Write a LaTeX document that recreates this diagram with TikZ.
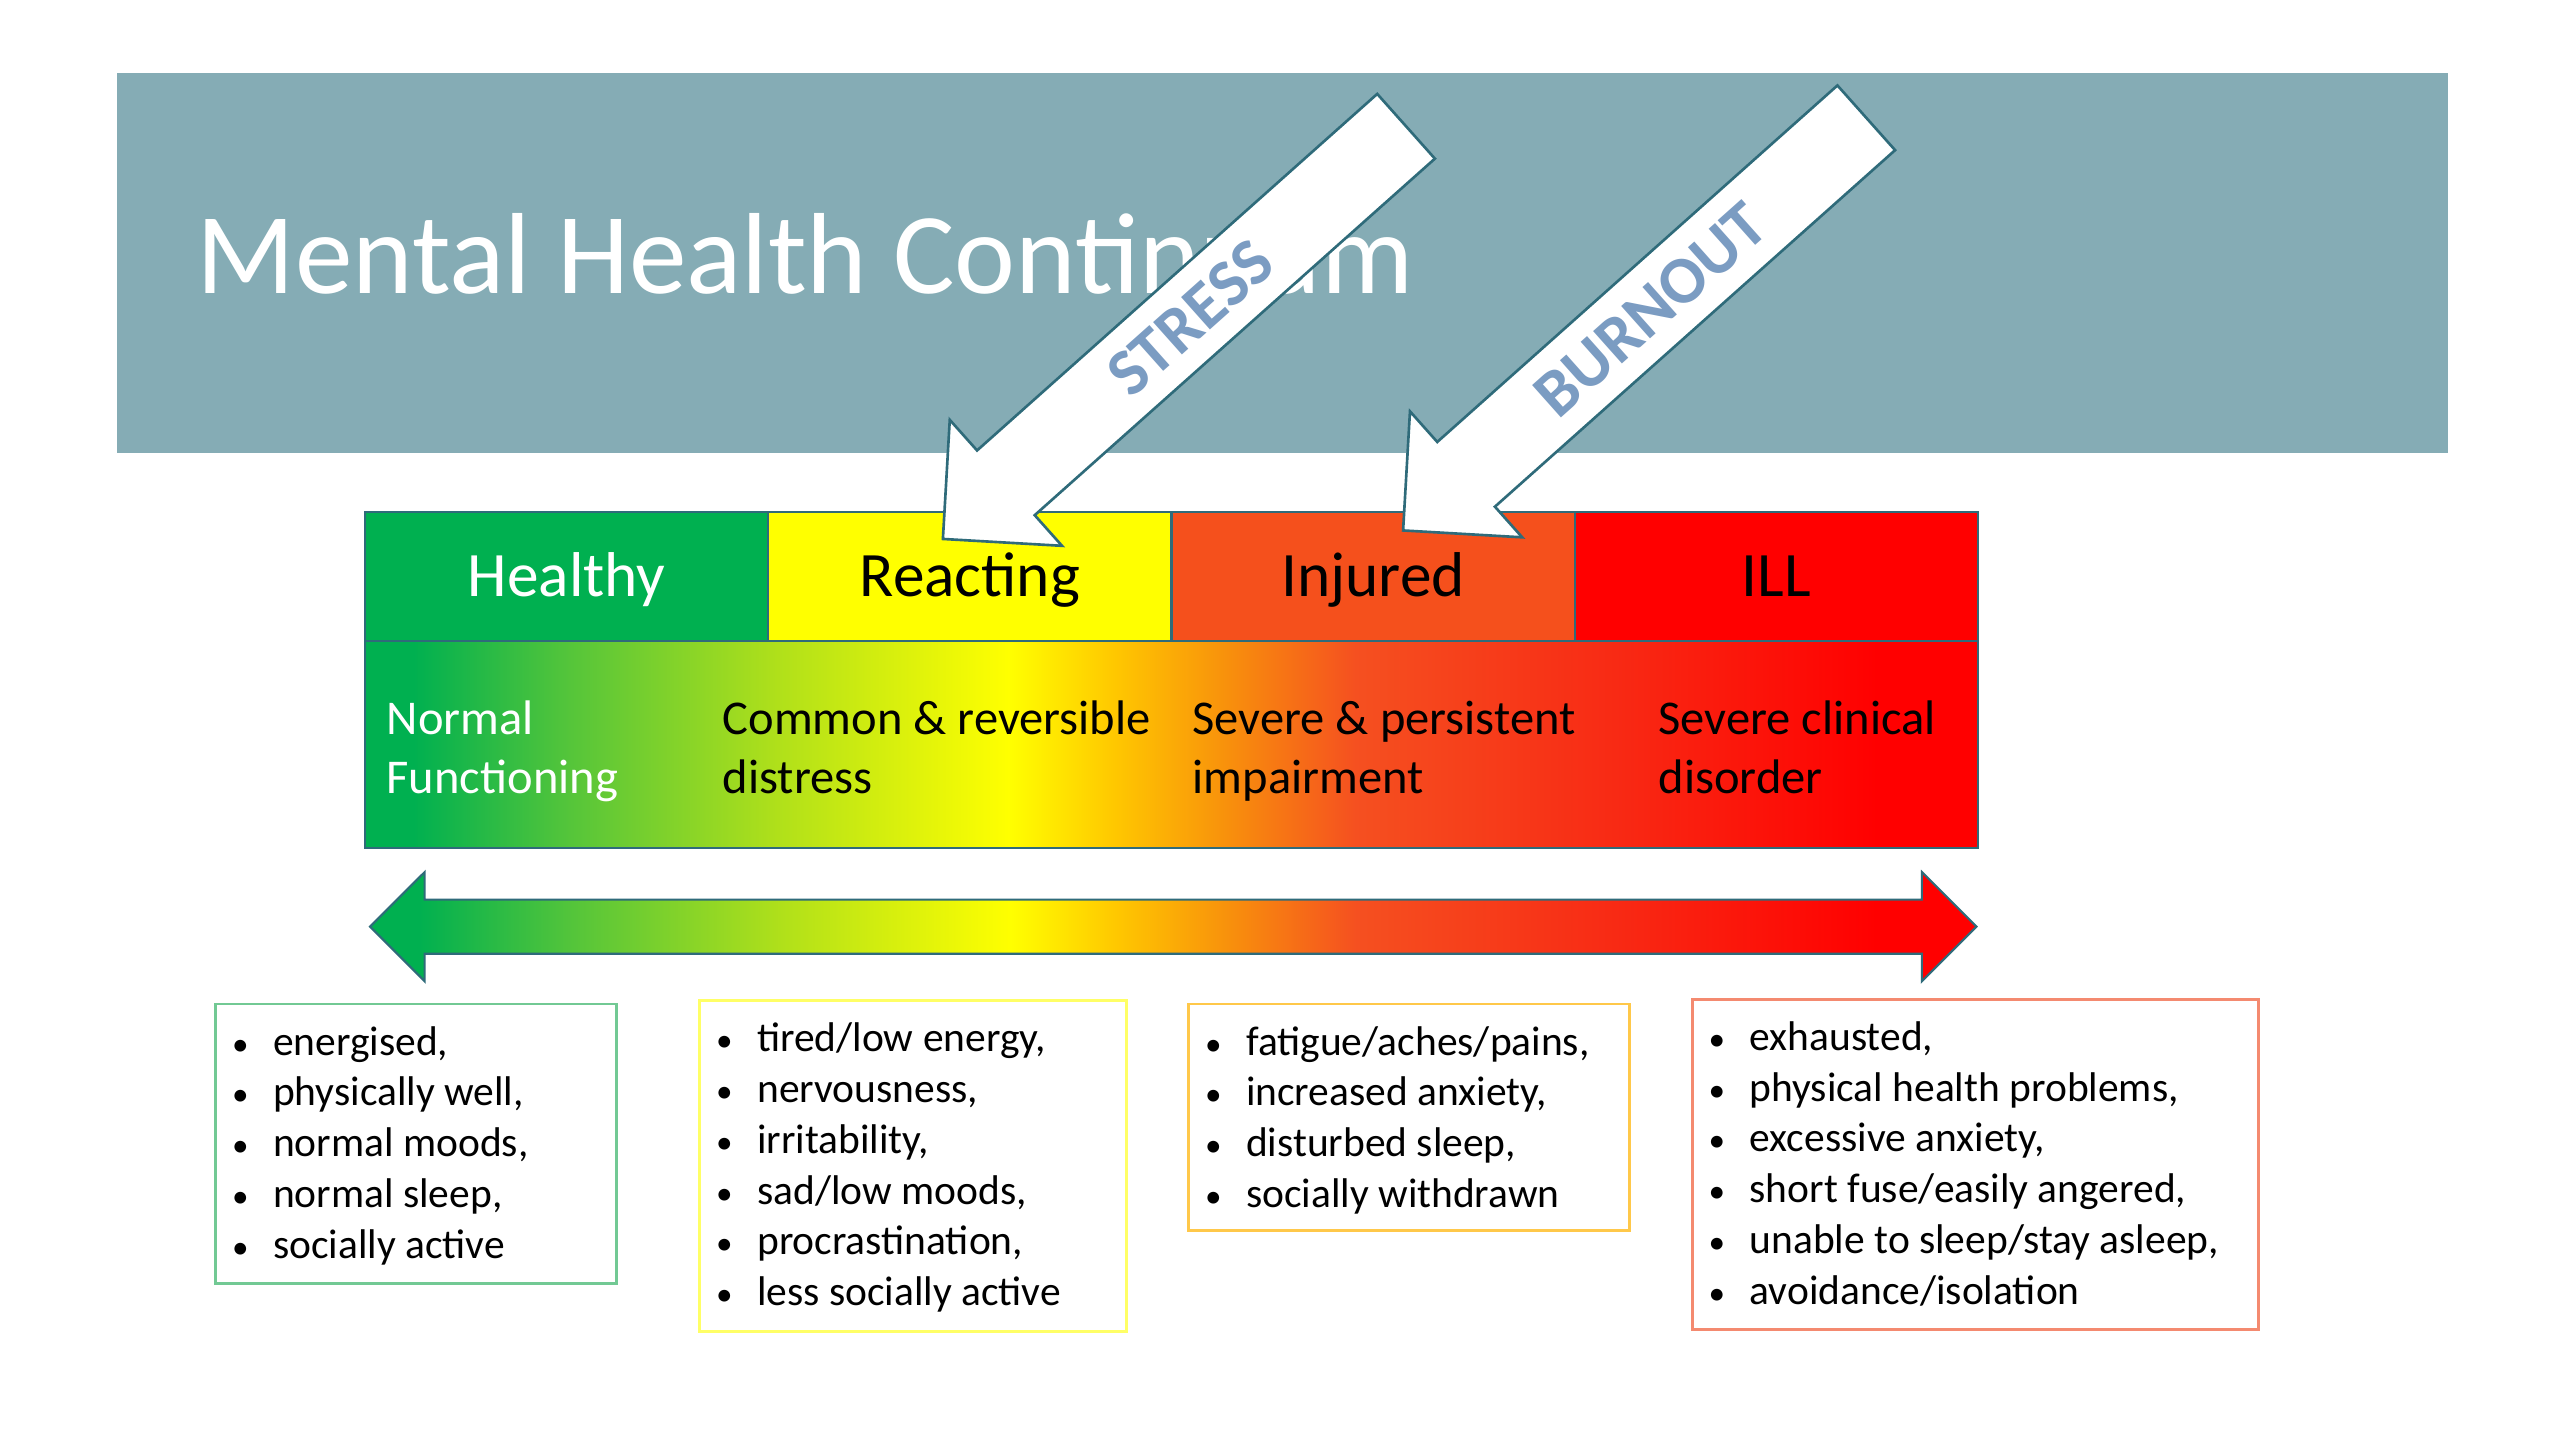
\documentclass[tikz,border=0pt]{standalone}
\usepackage{graphicx}
\usepackage{fontspec}
\setmainfont{Carlito}
\usetikzlibrary{positioning,shapes.arrows}
\definecolor{bandcol}{HTML}{85ACB5}
\definecolor{outl}{HTML}{2F6B7A}
\definecolor{arrowtxt}{HTML}{7B9CC2}
\definecolor{hcol}{HTML}{00B050}
\definecolor{rcol}{HTML}{FFFF00}
\definecolor{icol}{HTML}{F5501C}
\definecolor{lcol}{HTML}{FF0000}
\definecolor{bhcol}{HTML}{72C994}
\definecolor{brcol}{HTML}{FFFF66}
\definecolor{bicol}{HTML}{FFC84A}
\definecolor{blcol}{HTML}{F48A70}
\definecolor{gA}{HTML}{00B050}
\definecolor{gB}{HTML}{55C53A}
\definecolor{gC}{HTML}{B0E01A}
\definecolor{gD}{HTML}{FFFF00}
\definecolor{gE}{HTML}{FFC800}
\definecolor{gF}{HTML}{F8900C}
\definecolor{gG}{HTML}{F55020}
\definecolor{gH}{HTML}{F82A14}
\definecolor{gI}{HTML}{FF0000}
\pgfdeclarehorizontalshading{contgrad}{100bp}{color(0bp)=(gA); color(26.5bp)=(gA);
  color(31.35bp)=(gB); color(37.8bp)=(gC); color(44.95bp)=(gD); color(48.2bp)=(gE);
  color(51.75bp)=(gF); color(55.7bp)=(gG); color(63.75bp)=(gH); color(71.9bp)=(gI);
  color(100bp)=(gI)}
\newcommand{\symitem}[1]{\makebox[0.41cm][l]{\scalebox{0.8}{\textbullet}}#1\\}

\begin{document}
\begin{tikzpicture}[x=0.01cm, y=-0.01cm,
  cell/.style={draw=outl, line width=0.6pt, minimum width=4.03cm, minimum height=1.29cm,
    inner sep=0, outer sep=0, font=\fontsize{18}{21.6}\selectfont, text height=11.6pt, text depth=0pt},
  phase/.style={anchor=base west, inner sep=0, font=\fontsize{13.8}{16.5}\selectfont},
  strain/.style={single arrow, draw=outl, line width=0.75pt, fill=white, text=arrowtxt,
    font=\bfseries\fontsize{19}{22}\selectfont, text height=0.635cm, text depth=0.205cm,
    minimum height=6.2cm, minimum width=1.66cm, single arrow head extend=0.41cm,
    rotate=41.7, shape border rotate=180, anchor=tip, inner sep=0},
  symbox/.style={draw, line width=0.85pt, inner sep=0, outer sep=0, anchor=north west},
  symtext/.style={anchor=base west, inner sep=0, font=\fontsize{11.8}{14.45}\selectfont}
  ]
  \useasboundingbox[fill=white] (0,0) rectangle (2560,1440);
  \node[fill=bandcol, minimum width=23.3cm, minimum height=3.8cm, anchor=north west, inner sep=0] (band) at (116,72) {};
  \node[anchor=base west, text=white, font=\fontsize{32.8}{39}\selectfont, inner sep=0] (title) at (196,294) {Mental Health Continuum};

  \node[cell, fill=hcol, text=white, anchor=north west] (healthy) at (365,512) {Healthy};
  \node[cell, fill=rcol, right=0pt of healthy] (reacting) {Reacting};
  \node[cell, fill=icol, right=0pt of reacting] (injured) {Injured};
  \node[cell, fill=lcol, right=0pt of injured] (ill) {ILL};
  \node[draw=outl, line width=0.6pt, shading=contgrad, minimum width=16.12cm, minimum height=2.07cm,
    anchor=north west, inner sep=0, outer sep=0] (grad) at (healthy.south west) {};
  \node[phase, text=white] (normal) at (386,735) {\begin{tabular}[t]{@{}l@{}}Normal\\Functioning\end{tabular}};
  \node[phase] (common) at (722,735) {\begin{tabular}[t]{@{}l@{}}Common \& reversible\\distress\end{tabular}};
  \node[phase] (severe) at (1192,735) {\begin{tabular}[t]{@{}l@{}}Severe \& persistent\\impairment\end{tabular}};
  \node[phase] (clinical) at (1658,735) {\begin{tabular}[t]{@{}l@{}}Severe clinical\\disorder\end{tabular}};

  \node[double arrow, draw=outl, line width=0.6pt, shading=contgrad, minimum height=16.055cm, minimum width=1.07cm,
    double arrow head extend=0.275cm, inner xsep=0, inner ysep=0.26cm] (scale) at (1173.25,926.7) {};

  \node[strain] (stress) at (941.5,540.2) {STRESS};
  \node[strain] (burnout) at (1401.7,531.7) {BURNOUT};

  \node[symbox, draw=bhcol, minimum width=4.013cm, minimum height=2.79cm] (healthybox) at (215.4,1004) {};
  \node[symtext] (healthylist) at ([shift={(16,51)}]healthybox.north west) {\begin{tabular}[t]{@{}l@{}}
    \symitem{energised,}\symitem{physically well,}\symitem{normal moods,}\symitem{normal sleep,}\symitem{socially active}\end{tabular}};
  \node[symbox, draw=brcol, minimum width=4.265cm, minimum height=3.31cm] (reactingbox) at (699.5,1000.7) {};
  \node[symtext] (reactinglist) at ([shift={(16,51)}]reactingbox.north west) {\begin{tabular}[t]{@{}l@{}}
    \symitem{tired/low energy,}\symitem{nervousness,}\symitem{irritability,}\symitem{sad/low moods,}
    \symitem{procrastination,}\symitem{less socially active}\end{tabular}};
  \node[symbox, draw=bicol, minimum width=4.406cm, minimum height=2.267cm] (injuredbox) at (1188.4,1004) {};
  \node[symtext] (injuredlist) at ([shift={(16,51)}]injuredbox.north west) {\begin{tabular}[t]{@{}l@{}}
    \symitem{fatigue/aches/pains,}\symitem{increased anxiety,}\symitem{disturbed sleep,}\symitem{socially withdrawn}\end{tabular}};
  \node[symbox, draw=blcol, minimum width=5.66cm, minimum height=3.3cm] (illbox) at (1692,999.3) {};
  \node[symtext] (illlist) at ([shift={(16,51)}]illbox.north west) {\begin{tabular}[t]{@{}l@{}}
    \symitem{exhausted,}\symitem{physical health problems,}\symitem{excessive anxiety,}
    \symitem{short fuse/easily angered,}\symitem{unable to sleep/stay asleep,}\symitem{avoidance/isolation}\end{tabular}};
\end{tikzpicture}
\end{document}
